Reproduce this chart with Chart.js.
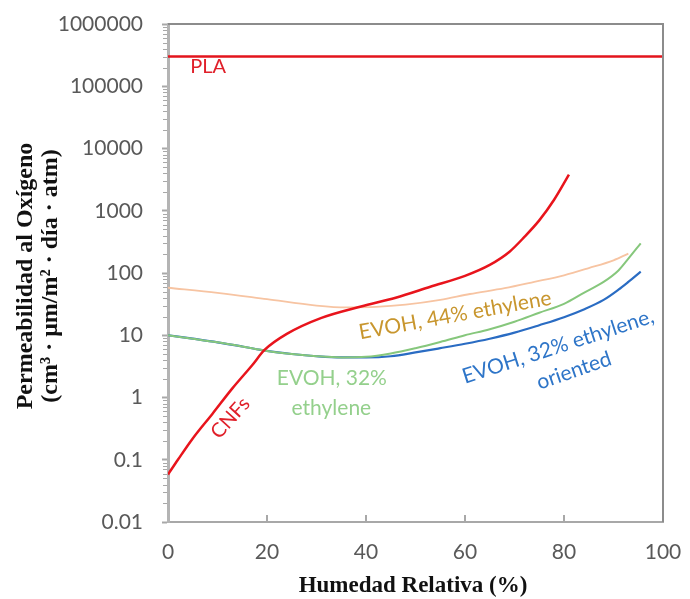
<!DOCTYPE html>
<html><head><meta charset="utf-8">
<script src="https://cdn.jsdelivr.net/npm/chart.js@4/dist/chart.umd.min.js"></script>
<style>html,body{margin:0;padding:0;background:#fff}canvas{display:block}</style>
</head><body>
<canvas id="c" width="690" height="599"></canvas>
<script>
// ---- Data ----
const plaHumidity = [0, 100];
const plaValues = [300000, 300000];

const cnfHumidity = [0, 2, 5, 9, 13, 17, 19.5, 24, 31, 39, 46, 53, 60, 65, 69, 72, 75, 78, 81];
const cnfValues   = [0.058, 0.1, 0.22, 0.55, 1.4, 3.3, 5.8, 10.5, 19, 29, 40, 60, 90, 135, 220, 380, 700, 1500, 3800];

const evoh44Humidity = [0, 10, 20, 30, 36, 42, 48, 55, 61, 68, 74, 80, 85, 90, 93];
const evoh44Values   = [58, 48, 38, 30, 28, 28.5, 31, 37, 46, 57, 72, 92, 120, 160, 205];

const evoh32Humidity = [0, 5, 10, 15, 20, 25, 30, 35, 40, 45, 50, 55, 60, 65, 70, 75, 80, 84, 88, 91, 93, 95.5];
const evoh32Values   = [10, 8.8, 7.7, 6.6, 5.6, 5, 4.6, 4.4, 4.5, 5.1, 6.2, 7.8, 10, 12.5, 16.5, 23, 32, 48, 72, 110, 170, 300];

const evoh32oHumidity = [0, 5, 10, 15, 20, 25, 30, 35, 40, 45, 50, 55, 60, 65, 70, 75, 80, 84, 88, 91, 93, 95.5];
const evoh32oValues   = [10, 8.8, 7.7, 6.6, 5.6, 5, 4.6, 4.4, 4.4, 4.6, 5.3, 6.2, 7.3, 8.8, 11, 14.5, 19.5, 26, 37, 54, 72, 105];

const yTickValues = [0.01, 0.1, 1, 10, 100, 1000, 10000, 100000, 1000000];
const yTickLabels = ['0.01', '0.1', '1', '10', '100', '1000', '10000', '100000', '1000000'];
const xTickValues = [0, 20, 40, 60, 80, 100];
const xInnerTicks = [20, 40, 60, 80];

const xTitle = 'Humedad Relativa (%)';
const yTitleLines = ['Permeabilidad al Oxígeno', '(cm³ · μm/m² · día · atm)'];

function pts(xs, ys) { return xs.map((x, i) => ({ x: x, y: ys[i] })); }

const AXIS_GRAY = '#A8A8A8';
const TICK_TEXT = '#595959';

const decorPlugin = {
  id: 'decor',
  afterDatasetsDraw(chart) {
    const { ctx, chartArea: a, scales } = chart;
    const y = scales.y, x = scales.x;
    ctx.save();
    ctx.strokeStyle = '#8C8C8C';
    ctx.lineWidth = 2;
    ctx.beginPath();
    ctx.moveTo(a.left, a.top); ctx.lineTo(a.right, a.top); ctx.lineTo(a.right, a.bottom);
    ctx.stroke();
    ctx.strokeStyle = AXIS_GRAY;
    ctx.lineWidth = 1;
    for (let d = 0; d < yTickValues.length - 1; d++) {
      for (let k = 2; k <= 9; k++) {
        const py = Math.round(y.getPixelForValue(yTickValues[d] * k)) + 0.5;
        ctx.beginPath(); ctx.moveTo(a.left - 5, py); ctx.lineTo(a.left - 1, py); ctx.stroke();
      }
    }
    ctx.lineWidth = 2;
    xInnerTicks.forEach(v => {
      const px = Math.round(x.getPixelForValue(v));
      ctx.beginPath(); ctx.moveTo(px, a.bottom); ctx.lineTo(px, a.bottom - 7); ctx.stroke();
    });
    ctx.restore();
  },
  afterDraw(chart) {
    const { ctx, scales } = chart;
    const xs = scales.x, ys = scales.y;
    ctx.save();
    function label(text, hx, vy, color, angleDeg, size) {
      ctx.save();
      ctx.translate(xs.getPixelForValue(hx), ys.getPixelForValue(vy));
      ctx.rotate(angleDeg * Math.PI / 180);
      ctx.font = size + 'px Lato';
      ctx.fillStyle = color;
      ctx.textAlign = 'center';
      ctx.textBaseline = 'middle';
      ctx.fillText(text, 0, 0);
      ctx.restore();
    }
    label('PLA', 8.1, 205000, '#E0202A', 0, 20);
    label('CNFs', 12.6, 0.47, '#E0202A', -48, 20);
    label('EVOH, 44% ethylene', 58, 21, '#C8962E', -10.3, 21);
    label('EVOH, 32%', 33.1, 2.06, '#94D08C', 0, 21);
    label('ethylene', 33, 0.67, '#94D08C', 0, 21);
    label('EVOH, 32% ethylene,', 78.8, 6.6, '#2E75C8', -18, 21);
    label('oriented', 82, 2.7, '#2E75C8', -19, 21);

    ctx.fillStyle = '#111';
    ctx.textAlign = 'center';
    ctx.textBaseline = 'middle';
    ctx.font = 'bold 23px "Liberation Serif"';
    ctx.fillText(xTitle, 413, 586);
    ctx.save();
    ctx.translate(26, 276);
    ctx.rotate(-Math.PI / 2);
    ctx.font = 'bold 24px "Liberation Serif"';
    ctx.fillText(yTitleLines[0], 0, 0);
    ctx.fillText(yTitleLines[1], 0, 25);
    ctx.restore();
    ctx.restore();
  }
};

new Chart(document.getElementById('c'), {
  type: 'line',
  data: {
    datasets: [
      { label: 'PLA', data: pts(plaHumidity, plaValues), borderColor: '#E3141C', borderWidth: 2.5 },
      { label: 'CNFs', data: pts(cnfHumidity, cnfValues), borderColor: '#E8141C', borderWidth: 2.5 },
      { label: 'EVOH, 32% ethylene', data: pts(evoh32Humidity, evoh32Values), borderColor: '#86C77C', borderWidth: 2 },
      { label: 'EVOH, 32% ethylene, oriented', data: pts(evoh32oHumidity, evoh32oValues), borderColor: '#2A6CC3', borderWidth: 2.2 },
      { label: 'EVOH, 44% ethylene', data: pts(evoh44Humidity, evoh44Values), borderColor: '#F7C4A2', borderWidth: 1.8 }
    ]
  },
  options: {
    responsive: false,
    animation: false,
    devicePixelRatio: 1,
    layout: { padding: { left: 0, right: 27, top: 24, bottom: 0 } },
    elements: { point: { radius: 0 }, line: { cubicInterpolationMode: 'monotone', fill: false } },
    plugins: { legend: { display: false }, tooltip: { enabled: false } },
    scales: {
      x: {
        type: 'linear', min: 0, max: 100,
        afterBuildTicks: s => { s.ticks = xTickValues.map(v => ({ value: v })); },
        afterFit: s => { s.height = 77; s.paddingLeft = 0; s.paddingRight = 0; },
        grid: { drawOnChartArea: false, drawTicks: false },
        border: { display: true, color: AXIS_GRAY, width: 2 },
        ticks: { color: TICK_TEXT, font: { family: 'Lato', size: 21 }, padding: 18, maxRotation: 0 }
      },
      y: {
        type: 'logarithmic', min: 0.01, max: 1000000,
        afterBuildTicks: s => { s.ticks = yTickValues.map(v => ({ value: v })); },
        afterFit: s => { s.width = 168; s.paddingTop = 0; s.paddingBottom = 0; },
        grid: { drawOnChartArea: false, drawTicks: true, tickLength: 6, color: AXIS_GRAY, tickWidth: 2 },
        border: { display: true, color: '#B4B4B4', width: 3 },
        ticks: {
          color: TICK_TEXT, font: { family: 'Lato', size: 21 }, padding: 19,
          callback: (v, i) => yTickLabels[i]
        }
      }
    }
  },
  plugins: [decorPlugin]
});
</script>
</body></html>
